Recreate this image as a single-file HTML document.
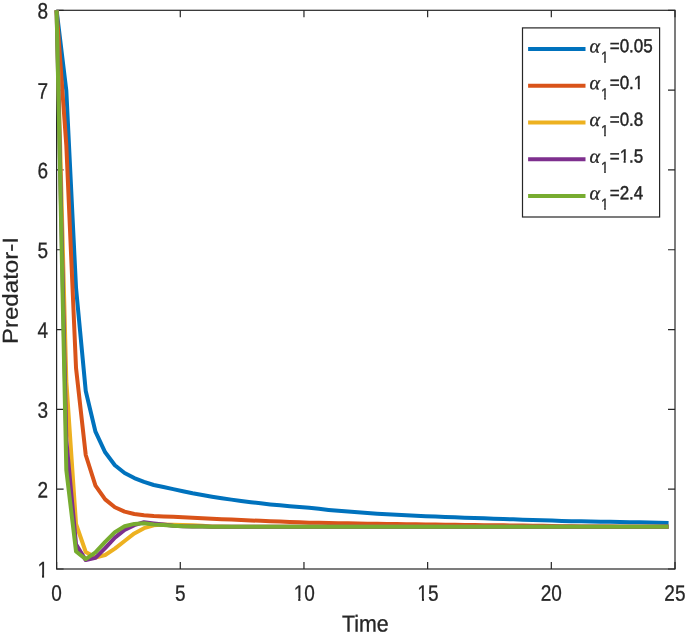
<!DOCTYPE html>
<html><head><meta charset="utf-8"><title>Predator-I vs Time</title>
<style>html,body{margin:0;padding:0;background:#fff}svg{display:block}text{text-rendering:geometricPrecision;font-family:"Liberation Sans",Arial,Helvetica,sans-serif;fill:#262626}</style></head><body>
<svg width="685" height="640" viewBox="0 0 685 640">
<defs><clipPath id="c1900"><path d="M-2,-22.80 H19.00 V-2.32 H-2 Z M4.58,-2.82 H6.66 V2 H4.58 Z"/></clipPath><clipPath id="c1350"><path d="M-2,-16.20 H13.50 V-1.91 H-2 Z M3.19,-2.41 H4.79 V2 H3.19 Z"/></clipPath><clipPath id="c1700"><path d="M-2,-20.40 H17.00 V-2.17 H-2 Z M4.07,-2.67 H5.98 V2 H4.07 Z"/></clipPath></defs>
<rect width="685" height="640" fill="#fff"/>
<g stroke="#262626" stroke-width="1.2" fill="none">
<rect x="56.60" y="10.30" width="618.40" height="558.70"/>
<path d="M56.60,569.00 v-7.00 M56.60,10.30 v7.00"/>
<path d="M180.28,569.00 v-7.00 M180.28,10.30 v7.00"/>
<path d="M303.96,569.00 v-7.00 M303.96,10.30 v7.00"/>
<path d="M427.64,569.00 v-7.00 M427.64,10.30 v7.00"/>
<path d="M551.32,569.00 v-7.00 M551.32,10.30 v7.00"/>
<path d="M675.00,569.00 v-7.00 M675.00,10.30 v7.00"/>
<path d="M56.60,569.00 h7.00 M675.00,569.00 h-7.00"/>
<path d="M56.60,489.19 h7.00 M675.00,489.19 h-7.00"/>
<path d="M56.60,409.37 h7.00 M675.00,409.37 h-7.00"/>
<path d="M56.60,329.56 h7.00 M675.00,329.56 h-7.00"/>
<path d="M56.60,249.74 h7.00 M675.00,249.74 h-7.00"/>
<path d="M56.60,169.93 h7.00 M675.00,169.93 h-7.00"/>
<path d="M56.60,90.11 h7.00 M675.00,90.11 h-7.00"/>
<path d="M56.60,10.30 h7.00 M675.00,10.30 h-7.00"/>
</g>
<g transform="translate(56.50,600.80) rotate(0.03) scale(1,1.170)" font-size="19.00" stroke="#262626" stroke-width="0.25"><text x="-5.28" y="0">0</text></g>
<g transform="translate(180.18,600.80) rotate(0.03) scale(1,1.170)" font-size="19.00" stroke="#262626" stroke-width="0.25"><text x="-5.28" y="0">5</text></g>
<g transform="translate(304.26,600.80) rotate(0.03) scale(1,1.170)" font-size="19.00" stroke="#262626" stroke-width="0.25"><g transform="translate(-10.57,0)" clip-path="url(#c1900)"><text x="0" y="0">1</text></g><text x="0.00" y="0">0</text></g>
<g transform="translate(427.94,600.80) rotate(0.03) scale(1,1.170)" font-size="19.00" stroke="#262626" stroke-width="0.25"><g transform="translate(-10.57,0)" clip-path="url(#c1900)"><text x="0" y="0">1</text></g><text x="0.00" y="0">5</text></g>
<g transform="translate(551.22,600.80) rotate(0.03) scale(1,1.170)" font-size="19.00" stroke="#262626" stroke-width="0.25"><text x="-10.57" y="0">20</text></g>
<g transform="translate(674.90,600.80) rotate(0.03) scale(1,1.170)" font-size="19.00" stroke="#262626" stroke-width="0.25"><text x="-10.57" y="0">25</text></g>
<g transform="translate(48.00,577.30) rotate(0.03) scale(1,1.170)" font-size="19.00" stroke="#262626" stroke-width="0.25"><g transform="translate(-10.57,0)" clip-path="url(#c1900)"><text x="0" y="0">1</text></g></g>
<g transform="translate(48.00,497.49) rotate(0.03) scale(1,1.170)" font-size="19.00" stroke="#262626" stroke-width="0.25"><text x="-10.57" y="0">2</text></g>
<g transform="translate(48.00,417.67) rotate(0.03) scale(1,1.170)" font-size="19.00" stroke="#262626" stroke-width="0.25"><text x="-10.57" y="0">3</text></g>
<g transform="translate(48.00,337.86) rotate(0.03) scale(1,1.170)" font-size="19.00" stroke="#262626" stroke-width="0.25"><text x="-10.57" y="0">4</text></g>
<g transform="translate(48.00,258.04) rotate(0.03) scale(1,1.170)" font-size="19.00" stroke="#262626" stroke-width="0.25"><text x="-10.57" y="0">5</text></g>
<g transform="translate(48.00,178.23) rotate(0.03) scale(1,1.170)" font-size="19.00" stroke="#262626" stroke-width="0.25"><text x="-10.57" y="0">6</text></g>
<g transform="translate(48.00,98.41) rotate(0.03) scale(1,1.170)" font-size="19.00" stroke="#262626" stroke-width="0.25"><text x="-10.57" y="0">7</text></g>
<g transform="translate(48.00,18.60) rotate(0.03) scale(1,1.170)" font-size="19.00" stroke="#262626" stroke-width="0.25"><text x="-10.57" y="0">8</text></g>
<g transform="translate(365.80,631.60) rotate(0.03) scale(1,1.080)" font-size="21.33" stroke="#262626" stroke-width="0.30"><text x="-23.70" y="0">Time</text></g>
<text transform="translate(17.7,290.6) rotate(-90.03) scale(1.115,1)" font-size="21.6" text-anchor="middle" stroke="#262626" stroke-width="0.25">Predator-I</text>
<g fill="none" stroke-width="4" stroke-linejoin="round" stroke-linecap="butt">
<path stroke="#0072BD" d="M56.60,10.30 L66.31,90.60 L76.03,288.00 L85.74,391.00 L95.46,431.70 L105.17,452.30 L114.88,465.20 L124.60,473.00 L134.31,478.10 L144.02,481.90 L153.74,485.00 L163.45,487.07 L173.17,489.15 L182.88,491.19 L192.59,493.24 L202.31,495.04 L212.02,496.66 L221.73,498.24 L231.45,499.61 L241.16,500.97 L250.88,502.19 L260.59,503.35 L270.30,504.41 L280.02,505.29 L289.73,506.16 L299.45,506.99 L309.16,507.83 L318.87,508.85 L328.59,509.89 L338.30,510.78 L348.01,511.53 L357.73,512.27 L367.44,512.98 L377.16,513.69 L386.87,514.22 L396.58,514.68 L406.30,515.14 L416.01,515.64 L425.72,516.14 L435.44,516.54 L445.15,516.91 L454.87,517.29 L464.58,517.68 L474.29,518.04 L484.01,518.36 L493.72,518.68 L503.44,519.00 L513.15,519.32 L522.86,519.64 L532.58,519.96 L542.29,520.28 L552.00,520.60 L561.72,520.92 L571.43,521.14 L581.15,521.31 L590.86,521.49 L600.57,521.66 L610.29,521.84 L620.00,522.02 L629.71,522.19 L639.43,522.37 L649.14,522.55 L658.86,522.72 L668.57,522.90"/>
<path stroke="#D95319" d="M56.60,10.30 L66.31,145.00 L76.03,368.00 L85.74,455.00 L95.46,485.60 L105.17,499.40 L114.88,507.25 L124.60,511.60 L134.31,514.00 L144.02,515.25 L153.74,516.00 L163.45,516.43 L173.17,516.86 L182.88,517.29 L192.59,517.72 L202.31,518.18 L212.02,518.65 L221.73,519.13 L231.45,519.61 L241.16,520.09 L250.88,520.48 L260.59,520.84 L270.30,521.21 L280.02,521.57 L289.73,521.94 L299.45,522.30 L309.16,522.67 L318.87,522.84 L328.59,523.00 L338.30,523.16 L348.01,523.32 L357.73,523.48 L367.44,523.63 L377.16,523.79 L386.87,523.95 L396.58,524.08 L406.30,524.20 L416.01,524.33 L425.72,524.45 L435.44,524.57 L445.15,524.69 L454.87,524.81 L464.58,524.93 L474.29,525.05 L484.01,525.16 L493.72,525.26 L503.44,525.37 L513.15,525.48 L522.86,525.59 L532.58,525.70 L542.29,525.86 L552.00,526.02 L561.72,526.19 L571.43,526.35 L581.15,526.50 L590.86,526.54 L600.57,526.57 L610.29,526.60 L620.00,526.64 L629.71,526.67 L639.43,526.70 L649.14,526.73 L658.86,526.77 L668.57,526.80"/>
<path stroke="#EDB120" d="M56.60,10.30 L66.31,381.00 L76.03,524.00 L85.74,552.00 L95.46,557.50 L105.17,555.00 L114.88,548.60 L124.60,541.00 L134.31,533.40 L144.02,528.20 L153.74,525.30 L163.45,524.60 L173.17,524.70 L182.88,525.10 L192.59,525.30 L202.31,525.80 L212.02,526.40 L221.73,526.55 L231.45,526.70 L241.16,526.70 L250.88,526.70 L260.59,526.71 L270.30,526.71 L280.02,526.71 L289.73,526.71 L299.45,526.72 L309.16,526.72 L318.87,526.72 L328.59,526.72 L338.30,526.72 L348.01,526.73 L357.73,526.73 L367.44,526.73 L377.16,526.73 L386.87,526.74 L396.58,526.74 L406.30,526.74 L416.01,526.74 L425.72,526.74 L435.44,526.75 L445.15,526.75 L454.87,526.75 L464.58,526.75 L474.29,526.76 L484.01,526.76 L493.72,526.76 L503.44,526.76 L513.15,526.76 L522.86,526.77 L532.58,526.77 L542.29,526.77 L552.00,526.77 L561.72,526.78 L571.43,526.78 L581.15,526.78 L590.86,526.78 L600.57,526.78 L610.29,526.79 L620.00,526.79 L629.71,526.79 L639.43,526.79 L649.14,526.80 L658.86,526.80 L668.57,526.80"/>
<path stroke="#7E2F8E" d="M56.60,10.30 L66.31,440.00 L76.03,544.30 L85.74,560.10 L95.46,557.90 L105.17,548.20 L114.88,537.60 L124.60,529.90 L134.31,525.20 L144.02,522.20 L153.74,523.40 L163.45,524.60 L173.17,525.80 L182.88,526.30 L192.59,526.50 L202.31,526.60 L212.02,526.70 L221.73,526.70 L231.45,526.70 L241.16,526.71 L250.88,526.71 L260.59,526.71 L270.30,526.71 L280.02,526.71 L289.73,526.72 L299.45,526.72 L309.16,526.72 L318.87,526.72 L328.59,526.73 L338.30,526.73 L348.01,526.73 L357.73,526.73 L367.44,526.73 L377.16,526.74 L386.87,526.74 L396.58,526.74 L406.30,526.74 L416.01,526.74 L425.72,526.75 L435.44,526.75 L445.15,526.75 L454.87,526.75 L464.58,526.76 L474.29,526.76 L484.01,526.76 L493.72,526.76 L503.44,526.76 L513.15,526.77 L522.86,526.77 L532.58,526.77 L542.29,526.77 L552.00,526.77 L561.72,526.78 L571.43,526.78 L581.15,526.78 L590.86,526.78 L600.57,526.79 L610.29,526.79 L620.00,526.79 L629.71,526.79 L639.43,526.79 L649.14,526.80 L658.86,526.80 L668.57,526.80"/>
<path stroke="#77AC30" d="M56.60,10.30 L66.31,470.00 L76.03,551.50 L85.74,559.10 L95.46,552.40 L105.17,541.80 L114.88,532.20 L124.60,526.30 L134.31,523.90 L144.02,523.30 L153.74,524.40 L163.45,525.10 L173.17,525.80 L182.88,526.30 L192.59,526.40 L202.31,526.55 L212.02,526.70 L221.73,526.70 L231.45,526.70 L241.16,526.71 L250.88,526.71 L260.59,526.71 L270.30,526.71 L280.02,526.71 L289.73,526.72 L299.45,526.72 L309.16,526.72 L318.87,526.72 L328.59,526.73 L338.30,526.73 L348.01,526.73 L357.73,526.73 L367.44,526.73 L377.16,526.74 L386.87,526.74 L396.58,526.74 L406.30,526.74 L416.01,526.74 L425.72,526.75 L435.44,526.75 L445.15,526.75 L454.87,526.75 L464.58,526.76 L474.29,526.76 L484.01,526.76 L493.72,526.76 L503.44,526.76 L513.15,526.77 L522.86,526.77 L532.58,526.77 L542.29,526.77 L552.00,526.77 L561.72,526.78 L571.43,526.78 L581.15,526.78 L590.86,526.78 L600.57,526.79 L610.29,526.79 L620.00,526.79 L629.71,526.79 L639.43,526.79 L649.14,526.80 L658.86,526.80 L668.57,526.80"/>
</g>
<rect x="522.5" y="27.9" width="137.1" height="189.1" fill="#fff" stroke="#262626" stroke-width="1.2"/>
<path d="M528.1,49.00 H585.5" stroke="#0072BD" stroke-width="4" fill="none"/>
<text transform="translate(589.5,52.50) rotate(0.03) scale(1.01,1)" font-size="19.8" font-style="italic" stroke="#262626" stroke-width="0.3" style="font-family:'Liberation Serif','DejaVu Serif',serif">α</text>
<g transform="translate(601.00,62.40) rotate(0.03) scale(1,1.170)" font-size="13.50" stroke="#262626" stroke-width="0.30"><g transform="translate(0.00,0)" clip-path="url(#c1350)"><text x="0" y="0">1</text></g></g>
<g transform="translate(609.70,52.20) rotate(0.03) scale(1,1.110)" font-size="17.00" stroke="#262626" stroke-width="0.40"><text x="0.00" y="0">=0.05</text></g>
<path d="M528.1,85.75 H585.5" stroke="#D95319" stroke-width="4" fill="none"/>
<text transform="translate(589.5,89.25) rotate(0.03) scale(1.01,1)" font-size="19.8" font-style="italic" stroke="#262626" stroke-width="0.3" style="font-family:'Liberation Serif','DejaVu Serif',serif">α</text>
<g transform="translate(601.00,99.15) rotate(0.03) scale(1,1.170)" font-size="13.50" stroke="#262626" stroke-width="0.30"><g transform="translate(0.00,0)" clip-path="url(#c1350)"><text x="0" y="0">1</text></g></g>
<g transform="translate(609.70,88.95) rotate(0.03) scale(1,1.110)" font-size="17.00" stroke="#262626" stroke-width="0.40"><text x="0.00" y="0">=0.</text><g transform="translate(24.11,0)" clip-path="url(#c1700)"><text x="0" y="0">1</text></g></g>
<path d="M528.1,122.50 H585.5" stroke="#EDB120" stroke-width="4" fill="none"/>
<text transform="translate(589.5,126.00) rotate(0.03) scale(1.01,1)" font-size="19.8" font-style="italic" stroke="#262626" stroke-width="0.3" style="font-family:'Liberation Serif','DejaVu Serif',serif">α</text>
<g transform="translate(601.00,135.90) rotate(0.03) scale(1,1.170)" font-size="13.50" stroke="#262626" stroke-width="0.30"><g transform="translate(0.00,0)" clip-path="url(#c1350)"><text x="0" y="0">1</text></g></g>
<g transform="translate(609.70,125.70) rotate(0.03) scale(1,1.110)" font-size="17.00" stroke="#262626" stroke-width="0.40"><text x="0.00" y="0">=0.8</text></g>
<path d="M528.1,159.25 H585.5" stroke="#7E2F8E" stroke-width="4" fill="none"/>
<text transform="translate(589.5,162.75) rotate(0.03) scale(1.01,1)" font-size="19.8" font-style="italic" stroke="#262626" stroke-width="0.3" style="font-family:'Liberation Serif','DejaVu Serif',serif">α</text>
<g transform="translate(601.00,172.65) rotate(0.03) scale(1,1.170)" font-size="13.50" stroke="#262626" stroke-width="0.30"><g transform="translate(0.00,0)" clip-path="url(#c1350)"><text x="0" y="0">1</text></g></g>
<g transform="translate(609.70,162.45) rotate(0.03) scale(1,1.110)" font-size="17.00" stroke="#262626" stroke-width="0.40"><text x="0.00" y="0">=</text><g transform="translate(9.93,0)" clip-path="url(#c1700)"><text x="0" y="0">1</text></g><text x="19.38" y="0">.5</text></g>
<path d="M528.1,196.00 H585.5" stroke="#77AC30" stroke-width="4" fill="none"/>
<text transform="translate(589.5,199.50) rotate(0.03) scale(1.01,1)" font-size="19.8" font-style="italic" stroke="#262626" stroke-width="0.3" style="font-family:'Liberation Serif','DejaVu Serif',serif">α</text>
<g transform="translate(601.00,209.40) rotate(0.03) scale(1,1.170)" font-size="13.50" stroke="#262626" stroke-width="0.30"><g transform="translate(0.00,0)" clip-path="url(#c1350)"><text x="0" y="0">1</text></g></g>
<g transform="translate(609.70,199.20) rotate(0.03) scale(1,1.110)" font-size="17.00" stroke="#262626" stroke-width="0.40"><text x="0.00" y="0">=2.4</text></g>
</svg></body></html>
